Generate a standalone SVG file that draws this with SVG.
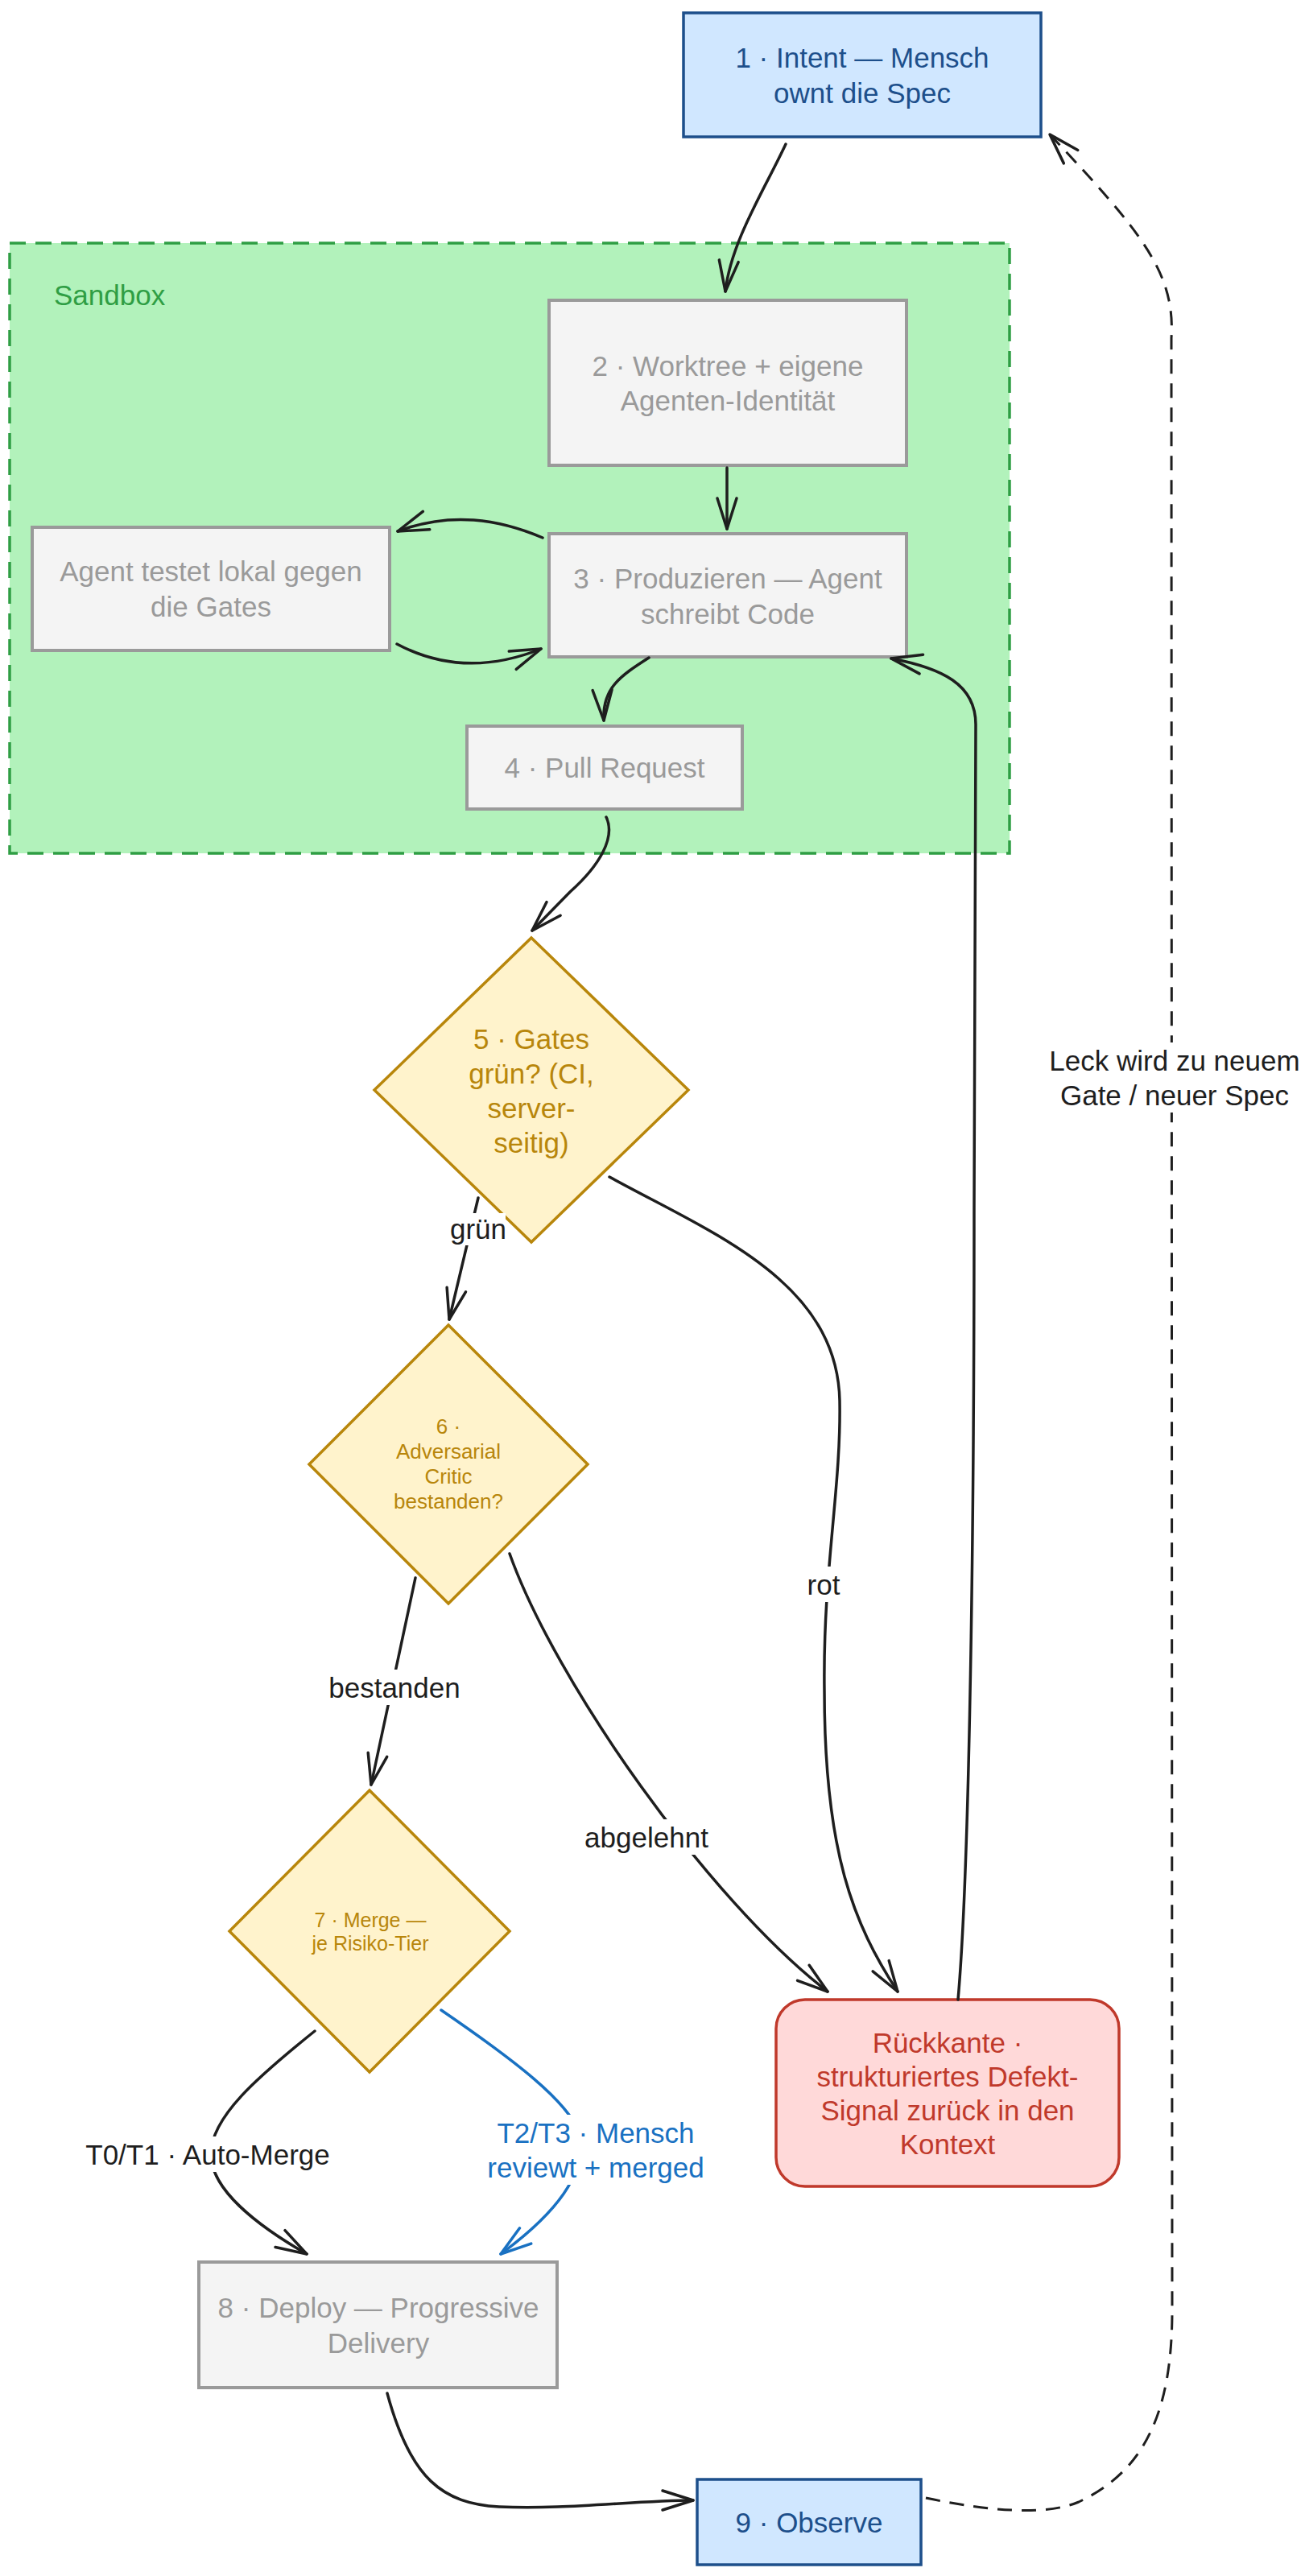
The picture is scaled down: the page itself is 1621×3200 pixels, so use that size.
<svg xmlns="http://www.w3.org/2000/svg" width="1621" height="3200" viewBox="0 0 1621 3200">
<style>
text{font-family:"Liberation Sans",Arial,sans-serif;font-size:35px;text-anchor:middle;dominant-baseline:central}
.blue rect{fill:#d0e7ff;stroke:#1d4f8b;stroke-width:3.5}
.blue text{fill:#1d4f8b}
.grey rect{fill:#f4f4f4;stroke:#9a9a9a;stroke-width:4}
.grey text{fill:#9a9a9a}
.dia polygon{fill:#fff3cc;stroke:#b8860b;stroke-width:3.5}
.dia text{fill:#b8860b}
.red rect{fill:#ffd9d9;stroke:#c0392b;stroke-width:3.5}
.red text{fill:#c0392b}
.edge{fill:none;stroke:#1e1e1e;stroke-width:3.5;stroke-linecap:round;marker-end:url(#ah)}
.edge.bl{stroke:#1971c2;marker-end:url(#ahb)}
.edge.dash{stroke-width:3;stroke-dasharray:18 12;stroke-linecap:butt}
.lbl text{fill:#1e1e1e}
.lbl .b{fill:#1971c2}
.lblbg{fill:#ffffff}
</style>
<defs>
<marker id="ah" viewBox="-44 -20 48 40" refX="0" refY="0" markerWidth="48" markerHeight="40" markerUnits="userSpaceOnUse" orient="auto">
<path d="M-38,-12 L0,0 L-38,12" fill="none" stroke="#1e1e1e" stroke-width="3.5" stroke-linecap="round" stroke-linejoin="round"/>
</marker>
<marker id="ahb" viewBox="-44 -20 48 40" refX="0" refY="0" markerWidth="48" markerHeight="40" markerUnits="userSpaceOnUse" orient="auto">
<path d="M-38,-12 L0,0 L-38,12" fill="none" stroke="#1971c2" stroke-width="3.5" stroke-linecap="round" stroke-linejoin="round"/>
</marker>
</defs>
<rect x="0" y="0" width="1621" height="3200" fill="#ffffff"/>

<g id="sandbox">
<rect x="12" y="302" width="1242" height="758" fill="#b2f2bb" stroke="#2f9e44" stroke-width="3.5" stroke-dasharray="20 12"/>
<text x="67" y="366" style="text-anchor:start;fill:#2f9e44">Sandbox</text>
</g>

<g id="n1" class="blue">
<rect x="849" y="16" width="444" height="154"/>
<text x="1071" y="71">1 · Intent — Mensch</text>
<text x="1071" y="115">ownt die Spec</text>
</g>
<g id="n2" class="grey">
<rect x="682" y="373" width="444" height="205"/>
<text x="904" y="454">2 · Worktree + eigene</text>
<text x="904" y="497">Agenten-Identität</text>
</g>
<g id="n3" class="grey">
<rect x="682" y="663" width="444" height="153"/>
<text x="904" y="718">3 · Produzieren — Agent</text>
<text x="904" y="762">schreibt Code</text>
</g>
<g id="nlocal" class="grey">
<rect x="40" y="655" width="444" height="153"/>
<text x="262" y="709">Agent testet lokal gegen</text>
<text x="262" y="753">die Gates</text>
</g>
<g id="n4" class="grey">
<rect x="580" y="902" width="342" height="103"/>
<text x="751" y="953">4 · Pull Request</text>
</g>
<g id="n5" class="dia">
<polygon points="660,1165 855,1354 660,1543 465,1354"/>
<text x="660" y="1290">5 · Gates</text>
<text x="660" y="1333">grün? (CI,</text>
<text x="660" y="1376">server-</text>
<text x="660" y="1419">seitig)</text>
</g>
<g id="n6" class="dia">
<polygon points="557,1646 730,1819 557,1992 384,1819"/>
<text x="557" y="1772" style="font-size:26px">6 ·</text>
<text x="557" y="1803" style="font-size:26px">Adversarial</text>
<text x="557" y="1834" style="font-size:26px">Critic</text>
<text x="557" y="1865" style="font-size:26px">bestanden?</text>
</g>
<g id="n7" class="dia">
<polygon points="459,2224 633,2399 459,2574 285,2399"/>
<text x="460" y="2385" style="font-size:25px">7 · Merge —</text>
<text x="460" y="2414" style="font-size:25px">je Risiko-Tier</text>
</g>
<g id="nback" class="red">
<rect x="964" y="2484" width="426" height="232" rx="36" ry="36"/>
<text x="1177" y="2537">Rückkante ·</text>
<text x="1177" y="2579">strukturiertes Defekt-</text>
<text x="1177" y="2621">Signal zurück in den</text>
<text x="1177" y="2663">Kontext</text>
</g>
<g id="n8" class="grey">
<rect x="247" y="2810" width="445" height="156"/>
<text x="470" y="2866">8 · Deploy — Progressive</text>
<text x="470" y="2910">Delivery</text>
</g>
<g id="n9" class="blue">
<rect x="866" y="3080" width="278" height="106"/>
<text x="1005" y="3133">9 · Observe</text>
</g>

<g id="connectors">
<path class="edge" d="M976,179 C950,235 908,300 901,362"/>
<path class="edge" d="M903,581 L903,657"/>
<path class="edge" d="M674,668 C620,645 560,635 494,660"/>
<path class="edge" d="M493,800 C540,825 600,835 672,806"/>
<path class="edge" d="M806,817 C770,840 748,855 750,895"/>
<path class="edge" d="M753,1015 C765,1040 745,1075 708,1108 L661,1156"/>
<path class="edge" d="M594,1488 L558,1639"/>
<path class="edge" d="M757,1462 C880,1530 1040,1590 1043,1740 C1045,1850 1022,1950 1024,2100 C1024,2300 1060,2390 1115,2474"/>
<path class="edge" d="M516,1960 L461,2217"/>
<path class="edge" d="M633,1930 C690,2090 880,2360 1028,2474"/>
<path class="edge" d="M1190,2484 C1202,2350 1210,2000 1210,1500 L1212,900 C1212,850 1170,830 1107,818"/>
<path class="edge" d="M391,2523 C320,2580 262,2630 262,2676 C262,2720 320,2765 381,2800"/>
<path class="edge bl" d="M548,2497 C640,2560 705,2610 720,2650 C730,2700 690,2750 622,2800"/>
<path class="edge" d="M481,2973 C510,3080 550,3110 620,3114 C700,3118 790,3106 861,3106"/>
<path class="edge dash" d="M1150,3103 C1230,3120 1300,3125 1340,3108 C1420,3070 1456,3000 1456,2870 L1455,420 C1460,340 1420,290 1304,167"/>
</g>

<g id="edge-labels" class="lbl">
<rect class="lblbg" x="562" y="1507" width="66" height="40"/>
<text x="594" y="1526">grün</text>
<rect class="lblbg" x="1000" y="1946" width="46" height="44"/>
<text x="1023" y="1968">rot</text>
<rect class="lblbg" x="404" y="2074" width="172" height="44"/>
<text x="490" y="2096">bestanden</text>
<rect class="lblbg" x="722" y="2260" width="162" height="44"/>
<text x="803" y="2282">abgelehnt</text>
<rect class="lblbg" x="88" y="2654" width="340" height="44"/>
<text x="258" y="2676">T0/T1 · Auto-Merge</text>
<rect class="lblbg" x="600" y="2627" width="282" height="87"/>
<text class="b" x="740" y="2649">T2/T3 · Mensch</text>
<text class="b" x="740" y="2692">reviewt + merged</text>
<rect class="lblbg" x="1300" y="1295" width="318" height="87"/>
<text x="1459" y="1317">Leck wird zu neuem</text>
<text x="1459" y="1360">Gate / neuer Spec</text>
</g>
</svg>
